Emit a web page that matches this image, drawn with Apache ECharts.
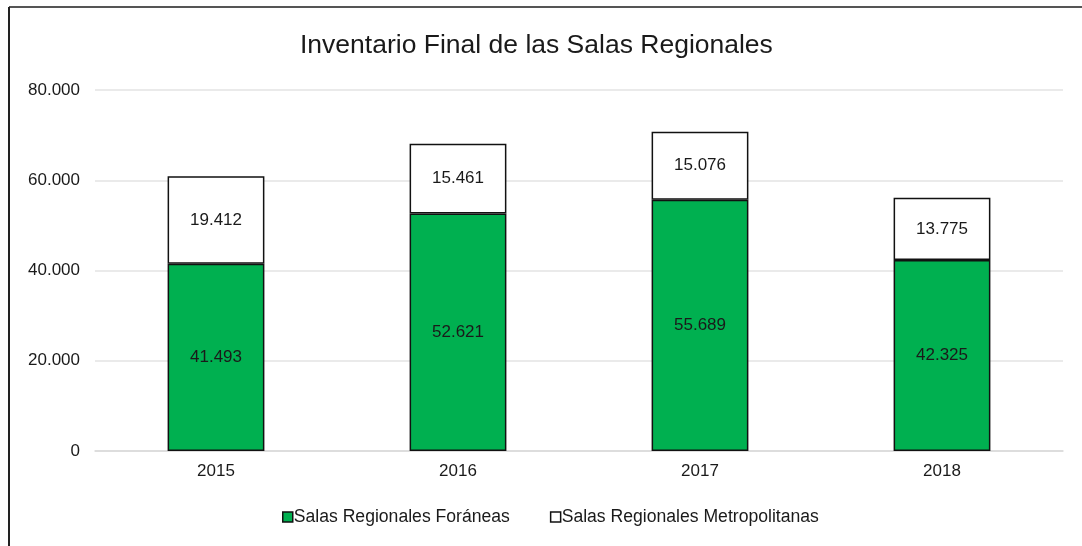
<!DOCTYPE html>
<html>
<head>
<meta charset="utf-8">
<script src="https://cdn.jsdelivr.net/npm/echarts@6/dist/echarts.min.js"></script>
<style>
html,body{margin:0;padding:0;background:#fff;}
#chart{width:1082px;height:546px;}
</style>
</head>
<body>
<div id="chart"></div>
<script>
const categories = ['2015', '2016', '2017', '2018'];
const foraneas = [41493, 52621, 55689, 42325];
const metropolitanas = [19412, 15461, 15076, 13775];
const yTicks = [0, 20000, 40000, 60000, 80000];

function fmt(v) {
  if (v === 0) return '0';
  return String(v).replace(/\B(?=(\d{3})+(?!\d))/g, '.');
}

const chart = echarts.init(document.getElementById('chart'));
const font = 'Liberation Sans, Arial, sans-serif';
chart.setOption({
  animation: false,
  backgroundColor: '#fff',
  title: {
    text: 'Inventario Final de las Salas Regionales',
    left: 295,
    top: 27,
    textStyle: { fontFamily: font, fontSize: 26.5, fontWeight: 'normal', color: '#1a1a1a' }
  },
  graphic: [
    { type: 'line', shape: { x1: 9, y1: 7, x2: 1082, y2: 7 }, style: { stroke: '#555', lineWidth: 2 } },
    { type: 'line', shape: { x1: 9, y1: 7, x2: 9, y2: 546 }, style: { stroke: '#222', lineWidth: 2 } }
  ],
  legend: {
    bottom: 15,
    left: 277,
    itemWidth: 10,
    itemHeight: 10,
    itemGap: 40,
    icon: 'rect',
    textStyle: { fontFamily: font, fontSize: 17.6, color: '#1a1a1a', padding: [0, 0, 0, -4] },
    data: [
      { name: 'Salas Regionales Foráneas', itemStyle: { color: '#00B050', borderColor: '#111', borderWidth: 1.5 } },
      { name: 'Salas Regionales Metropolitanas', itemStyle: { color: '#fff', borderColor: '#111', borderWidth: 1.5 } }
    ]
  },
  grid: { left: 95, right: 19, top: 90, bottom: 95 },
  xAxis: {
    type: 'category',
    data: categories,
    axisLine: { show: true, lineStyle: { color: '#d9d9d9', width: 1.5 } },
    axisTick: { show: false },
    axisLabel: { fontFamily: font, fontSize: 17, color: '#1a1a1a', margin: 12 }
  },
  yAxis: {
    type: 'value',
    min: yTicks[0],
    max: yTicks[yTicks.length - 1],
    interval: 20000,
    axisLine: { show: false },
    axisTick: { show: false },
    splitLine: { lineStyle: { color: '#e3e3e3', width: 1.5 } },
    axisLabel: { fontFamily: font, fontSize: 17, color: '#1a1a1a', margin: 15, formatter: fmt }
  },
  series: [
    {
      name: 'Salas Regionales Foráneas',
      type: 'bar',
      stack: 'total',
      data: foraneas,
      barWidth: '40%',
      itemStyle: { color: '#00B050', borderColor: '#111', borderWidth: 1.5 },
      label: { show: true, position: 'inside', fontFamily: font, fontSize: 17, color: '#1a1a1a', formatter: p => fmt(p.value) }
    },
    {
      name: 'Salas Regionales Metropolitanas',
      type: 'bar',
      stack: 'total',
      data: metropolitanas,
      barWidth: '40%',
      itemStyle: { color: '#fff', borderColor: '#111', borderWidth: 1.5 },
      label: { show: true, position: 'inside', fontFamily: font, fontSize: 17, color: '#1a1a1a', formatter: p => fmt(p.value) }
    }
  ]
});
</script>
</body>
</html>
